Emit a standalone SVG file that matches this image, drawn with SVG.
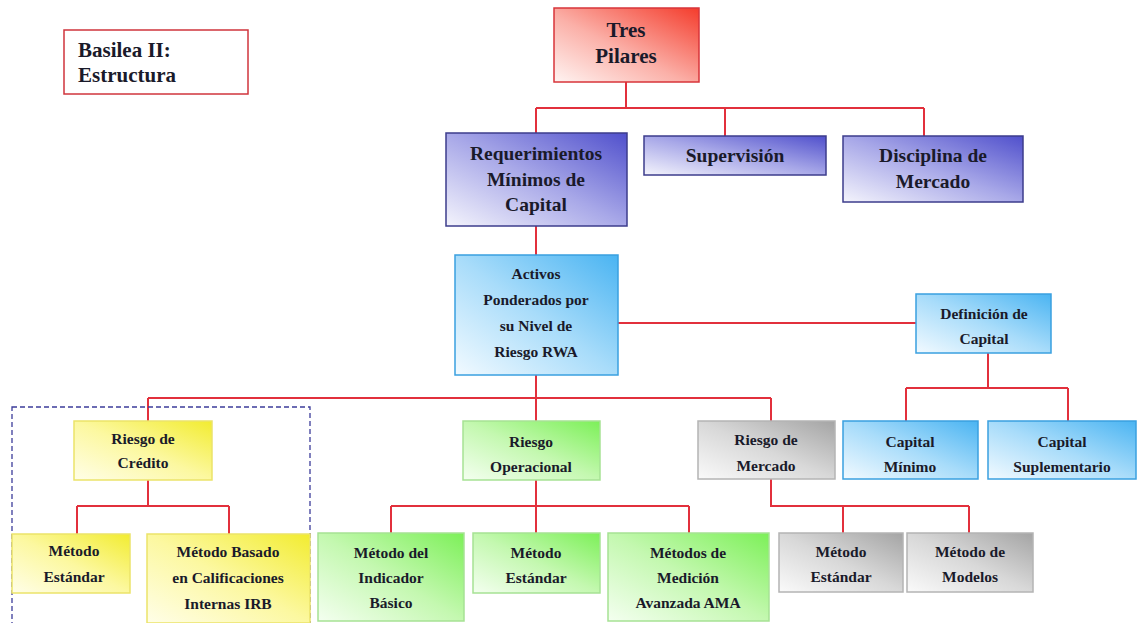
<svg xmlns="http://www.w3.org/2000/svg" width="1137" height="623" viewBox="0 0 1137 623">
<defs>
<linearGradient id="gRed" x1="0" y1="1" x2="1" y2="0"><stop offset="0" stop-color="#fff4f2"/><stop offset="0.45" stop-color="#fbb0a8"/><stop offset="1" stop-color="#f43c2c"/></linearGradient>
<linearGradient id="gPur" x1="0" y1="1" x2="1" y2="0"><stop offset="0" stop-color="#f4f4fc"/><stop offset="0.5" stop-color="#a8a8e8"/><stop offset="1" stop-color="#5050cc"/></linearGradient>
<linearGradient id="gBlu" x1="0" y1="1" x2="1" y2="0"><stop offset="0" stop-color="#f2faff"/><stop offset="0.5" stop-color="#a8dcfa"/><stop offset="1" stop-color="#4ab4f2"/></linearGradient>
<linearGradient id="gYel" x1="0" y1="1" x2="1" y2="0"><stop offset="0" stop-color="#fffee8"/><stop offset="0.5" stop-color="#fcf8a0"/><stop offset="1" stop-color="#f2ec30"/></linearGradient>
<linearGradient id="gGrn" x1="0" y1="1" x2="1" y2="0"><stop offset="0" stop-color="#f4fff0"/><stop offset="0.5" stop-color="#c4f8b0"/><stop offset="1" stop-color="#7cf058"/></linearGradient>
<linearGradient id="gGry" x1="0" y1="1" x2="1" y2="0"><stop offset="0" stop-color="#fafafa"/><stop offset="0.5" stop-color="#d8d8d8"/><stop offset="1" stop-color="#a4a4a4"/></linearGradient>
</defs>
<rect width="1137" height="623" fill="#ffffff"/>
<g id="connectors" stroke="#e2303c" stroke-width="2" fill="none">
<path d="M626 82V108M536 108H924M536 108V133M725 108V136M924 108V136"/>
<path d="M536 226V255"/>
<path d="M618 323H916"/>
<path d="M988 353V388M906 388H1068M906 388V421M1068 388V421"/>
<path d="M536 375V398M148 398H771M148 398V421M536 398V421M771 398V421"/>
<path d="M148 480V506M77 506H229M77 506V534M229 506V534"/>
<path d="M536 480V506M391 506H689M391 506V533M536 506V533M689 506V533"/>
<path d="M771 479V506H969M843 506V533M969 506V533"/>
</g>
<g id="group-credito">
<rect x="12" y="407" width="298" height="220" fill="none" stroke="#3c3c9a" stroke-width="1.3" stroke-dasharray="5,3"/>
</g>
<g font-weight="bold" fill="#1a1a2a" text-anchor="middle">
<g id="basilea" font-size="21" text-anchor="start">
<rect x="64" y="30" width="184" height="64" fill="#ffffff" stroke="#d0343c" stroke-width="1.5"/>
<text font-family="Liberation Serif" x="78" y="57">Basilea II:</text>
<text font-family="Liberation Serif" x="78" y="82">Estructura</text>
</g>
<g id="tres-pilares" font-size="21">
<rect x="554" y="8" width="145" height="74" fill="url(#gRed)" stroke="#d8343a" stroke-width="1.5"/>
<text font-family="Liberation Serif" x="626" y="37">Tres</text>
<text font-family="Liberation Serif" x="626" y="63">Pilares</text>
</g>
<g id="requerimientos" font-size="19.5">
<rect x="446" y="133" width="181" height="93" fill="url(#gPur)" stroke="#3c3c8c" stroke-width="1.5"/>
<text font-family="Liberation Serif" x="536" y="160">Requerimientos</text>
<text font-family="Liberation Serif" x="536" y="186">Mínimos de</text>
<text font-family="Liberation Serif" x="536" y="211">Capital</text>
</g>
<g id="supervision" font-size="19.5">
<rect x="644" y="136" width="182" height="39" fill="url(#gPur)" stroke="#3c3c8c" stroke-width="1.5"/>
<text font-family="Liberation Serif" x="735" y="162">Supervisión</text>
</g>
<g id="disciplina" font-size="19.5">
<rect x="843" y="136" width="180" height="66" fill="url(#gPur)" stroke="#3c3c8c" stroke-width="1.5"/>
<text font-family="Liberation Serif" x="933" y="162">Disciplina de</text>
<text font-family="Liberation Serif" x="933" y="188">Mercado</text>
</g>
<g id="activos" font-size="15.5">
<rect x="455" y="255" width="163" height="120" fill="url(#gBlu)" stroke="#3aa0e0" stroke-width="1.5"/>
<text font-family="Liberation Serif" x="536" y="279">Activos</text>
<text font-family="Liberation Serif" x="536" y="305">Ponderados por</text>
<text font-family="Liberation Serif" x="536" y="331">su Nivel de</text>
<text font-family="Liberation Serif" x="536" y="357">Riesgo RWA</text>
</g>
<g id="definicion" font-size="15.5">
<rect x="916" y="294" width="135" height="59" fill="url(#gBlu)" stroke="#3aa0e0" stroke-width="1.5"/>
<text font-family="Liberation Serif" x="984" y="319">Definición de</text>
<text font-family="Liberation Serif" x="984" y="344">Capital</text>
</g>
<g id="capital-minimo" font-size="15.5">
<rect x="843" y="421" width="135" height="58" fill="url(#gBlu)" stroke="#3aa0e0" stroke-width="1.5"/>
<text font-family="Liberation Serif" x="910" y="447">Capital</text>
<text font-family="Liberation Serif" x="910" y="472">Mínimo</text>
</g>
<g id="capital-suplementario" font-size="15.5">
<rect x="988" y="421" width="148" height="58" fill="url(#gBlu)" stroke="#3aa0e0" stroke-width="1.5"/>
<text font-family="Liberation Serif" x="1062" y="447">Capital</text>
<text font-family="Liberation Serif" x="1062" y="472">Suplementario</text>
</g>
<g id="riesgo-credito" font-size="15.5">
<rect x="74" y="421" width="138" height="59" fill="url(#gYel)" stroke="#ebe36a" stroke-width="1.5"/>
<text font-family="Liberation Serif" x="143" y="444">Riesgo de</text>
<text font-family="Liberation Serif" x="143" y="468">Crédito</text>
</g>
<g id="riesgo-operacional" font-size="15.5">
<rect x="463" y="421" width="137" height="59" fill="url(#gGrn)" stroke="#a6e294" stroke-width="1.5"/>
<text font-family="Liberation Serif" x="531" y="447">Riesgo</text>
<text font-family="Liberation Serif" x="531" y="472">Operacional</text>
</g>
<g id="riesgo-mercado" font-size="15.5">
<rect x="698" y="421" width="137" height="58" fill="url(#gGry)" stroke="#b4b4b4" stroke-width="1.5"/>
<text font-family="Liberation Serif" x="766" y="445">Riesgo de</text>
<text font-family="Liberation Serif" x="766" y="471">Mercado</text>
</g>
<g id="credito-estandar" font-size="15.5">
<rect x="12" y="534" width="118" height="59" fill="url(#gYel)" stroke="#ebe36a" stroke-width="1.5"/>
<text font-family="Liberation Serif" x="74" y="556">Método</text>
<text font-family="Liberation Serif" x="74" y="582">Estándar</text>
</g>
<g id="credito-irb" font-size="15.5">
<rect x="147" y="534" width="163" height="89" fill="url(#gYel)" stroke="#ebe36a" stroke-width="1.5"/>
<text font-family="Liberation Serif" x="228" y="557">Método Basado</text>
<text font-family="Liberation Serif" x="228" y="583">en Calificaciones</text>
<text font-family="Liberation Serif" x="228" y="609">Internas IRB</text>
</g>
<g id="op-indicador" font-size="15.5">
<rect x="318" y="533" width="146" height="88" fill="url(#gGrn)" stroke="#a6e294" stroke-width="1.5"/>
<text font-family="Liberation Serif" x="391" y="558">Método del</text>
<text font-family="Liberation Serif" x="391" y="583">Indicador</text>
<text font-family="Liberation Serif" x="391" y="608">Básico</text>
</g>
<g id="op-estandar" font-size="15.5">
<rect x="473" y="533" width="127" height="60" fill="url(#gGrn)" stroke="#a6e294" stroke-width="1.5"/>
<text font-family="Liberation Serif" x="536" y="558">Método</text>
<text font-family="Liberation Serif" x="536" y="583">Estándar</text>
</g>
<g id="op-ama" font-size="15.5">
<rect x="608" y="533" width="161" height="88" fill="url(#gGrn)" stroke="#a6e294" stroke-width="1.5"/>
<text font-family="Liberation Serif" x="688" y="558">Métodos de</text>
<text font-family="Liberation Serif" x="688" y="583">Medición</text>
<text font-family="Liberation Serif" x="688" y="608">Avanzada AMA</text>
</g>
<g id="mercado-estandar" font-size="15.5">
<rect x="779" y="533" width="124" height="59" fill="url(#gGry)" stroke="#b4b4b4" stroke-width="1.5"/>
<text font-family="Liberation Serif" x="841" y="557">Método</text>
<text font-family="Liberation Serif" x="841" y="582">Estándar</text>
</g>
<g id="mercado-modelos" font-size="15.5">
<rect x="907" y="533" width="126" height="59" fill="url(#gGry)" stroke="#b4b4b4" stroke-width="1.5"/>
<text font-family="Liberation Serif" x="970" y="557">Método de</text>
<text font-family="Liberation Serif" x="970" y="582">Modelos</text>
</g>
</g>
</svg>
